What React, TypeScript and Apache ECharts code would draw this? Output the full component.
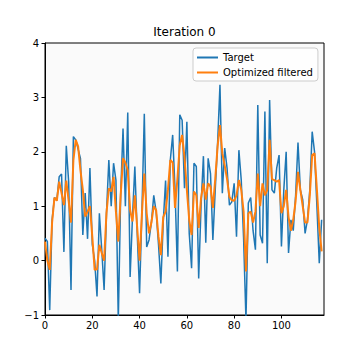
import React, { useEffect, useRef } from "react";
import * as echarts from "echarts";

const title = "Iteration 0";
const seriesNames = ["Target", "Optimized filtered"];
const xTicks = [0, 20, 40, 60, 80, 100];
const yTicks = [-1, 0, 1, 2, 3, 4];

const target = [
  0.41, 0.35, -0.91, 0.75, 1.16, 1.11, 1.54, 1.59, 0.16, 2.11,
  1.45, -0.54, 2.28, 2.22, 2.05, 1.88, 0.47, 1.24, 0.4, 1.7,
  0.3, 0.0, -0.66, 0.87, 0.2, -0.54, 0.87, 1.85, 1.0, 1.79,
  1.48, -1.1, 1.2, 2.43, 1.0, 2.72, -0.3, 0.8, 1.73, 0.5,
  -0.6, 0.9, 2.7, 0.25, 0.38, 0.7, 1.2, 0.9, 0.3, -0.42,
  0.7, 1.47, 0.07, 1.85, 2.31, 1.3, -0.2, 2.68, 2.58, 1.33,
  2.55, 0.5, -0.14, 1.79, 1.73, -0.33, 1.0, 1.92, 0.33, 1.88,
  1.6, 0.38, 1.3, 2.15, 3.23, 1.24, 2.07, 1.7, 1.02, 1.08,
  1.42, 0.44, 2.03, 1.48, 0.4, -1.1, 1.06, 1.16, 0.55, 0.2,
  2.86, 0.47, 0.32, 2.74, -0.05, 2.95, 1.3, 1.24, 1.7, 1.94,
  0.26, 1.3, 2.0, 0.14, 0.75, 0.55, 1.2, 2.17, 1.3, 1.12,
  0.5, 0.75, 1.3, 2.37, 2.0, 1.0, -0.05, 0.75,
];

const filtered = [
  0.35, 0.0, -0.17, 0.7, 1.16, 1.1, 1.45, 1.24, 1.02, 1.47,
  1.1, 0.7, 1.84, 2.22, 2.1, 1.66, 1.3, 0.81, 0.9, 1.0,
  0.44, -0.17, -0.16, 0.29, 0.14, 0.0, 0.87, 1.33, 1.27, 1.54,
  0.9, 0.35, 1.2, 1.88, 1.8, 1.66, 0.93, 0.72, 1.2, 0.6,
  0.0, 0.87, 1.6, 0.87, 0.5, 0.7, 1.0, 0.93, 0.44, 0.1,
  0.8, 0.9, 1.3, 1.85, 1.8, 0.97, 1.5, 2.12, 2.31, 1.9,
  1.3, 0.75, 0.47, 1.27, 1.2, 0.6, 1.15, 1.42, 1.12, 1.42,
  1.36, 0.97, 1.5, 2.1, 2.49, 1.97, 1.75, 1.5, 1.17, 1.11,
  1.1, 1.2, 1.48, 1.3, 0.9, -0.2, 0.87, 0.9, 0.7, 0.9,
  1.6, 1.0, 1.42, 1.2, 1.3, 2.22, 1.5, 1.48, 1.45, 1.48,
  0.87, 1.0, 1.3, 0.8, 0.55, 0.75, 1.1, 1.63, 1.3, 1.0,
  0.7, 0.7, 1.2, 1.94, 1.97, 1.3, 0.6, 0.17,
];

const FONT = "DejaVu Sans";

export default function App() {
  const ref = useRef<HTMLDivElement>(null);
  useEffect(() => {
    if (!ref.current) return;
    const chart = echarts.init(ref.current, undefined, { renderer: "svg" });
    const xMax = target.length;
    const fmt = (v: number) => String(v).replace("-", "\u2212");
    chart.setOption({
      animation: false,
      backgroundColor: "#ffffff",
      textStyle: { fontFamily: FONT },
      graphic: [
        {
          type: "text",
          x: 184.5,
          y: 32,
          style: {
            text: title,
            fontSize: 12,
            fontFamily: FONT,
            fill: "#000",
            align: "center",
            verticalAlign: "middle",
          },
        },
      ],
      grid: {
        left: 45,
        top: 43,
        width: 279,
        height: 272,
        show: true,
        backgroundColor: "#fafafa",
        borderColor: "#000",
        borderWidth: 1,
      },
      legend: {
        left: 193,
        top: 48,
        orient: "vertical",
        icon: "rect",
        itemWidth: 21,
        itemHeight: 2,
        itemGap: 4,
        padding: [4, 5, 3, 4],
        backgroundColor: "rgba(255,255,255,0.8)",
        borderColor: "#cccccc",
        borderWidth: 1,
        borderRadius: 3,
        textStyle: { fontSize: 10, color: "#000", fontFamily: FONT, lineHeight: 11 },
        data: seriesNames,
      },
      xAxis: {
        type: "value",
        min: 0,
        max: xMax,
        splitLine: { show: false },
        axisLine: { show: true, onZero: false, lineStyle: { color: "#000", width: 1 } },
        axisTick: {
          show: true,
          length: 3.5,
          lineStyle: { color: "#000" },
          customValues: xTicks,
        },
        axisLabel: {
          color: "#000",
          fontSize: 10,
          fontFamily: FONT,
          margin: 5,
          customValues: xTicks,
          formatter: (v: number) => fmt(v),
        },
      },
      yAxis: {
        type: "value",
        min: -1,
        max: 4,
        interval: 1,
        splitLine: { show: false },
        axisLine: { show: true, onZero: false, lineStyle: { color: "#000", width: 1 } },
        axisTick: {
          show: true,
          length: 3.5,
          lineStyle: { color: "#000" },
          customValues: yTicks,
        },
        axisLabel: {
          color: "#000",
          fontSize: 10,
          fontFamily: FONT,
          margin: 6,
          customValues: yTicks,
          formatter: (v: number) => fmt(v),
        },
      },
      series: [
        {
          name: seriesNames[0],
          type: "line",
          data: target.map((v, i) => [i, v]),
          symbol: "none",
          lineStyle: { color: "#1f77b4", width: 1.5 },
          itemStyle: { color: "#1f77b4" },
          clip: true,
          z: 2,
        },
        {
          name: seriesNames[1],
          type: "line",
          data: filtered.map((v, i) => [i, v]),
          symbol: "none",
          lineStyle: { color: "#ff7f0e", width: 2 },
          itemStyle: { color: "#ff7f0e" },
          clip: true,
          z: 3,
        },
      ],
    });
    return () => chart.dispose();
  }, []);
  return (
    <div
      ref={ref}
      style={{ position: "fixed", left: 0, top: 0, width: 360, height: 360 }}
    />
  );
}
